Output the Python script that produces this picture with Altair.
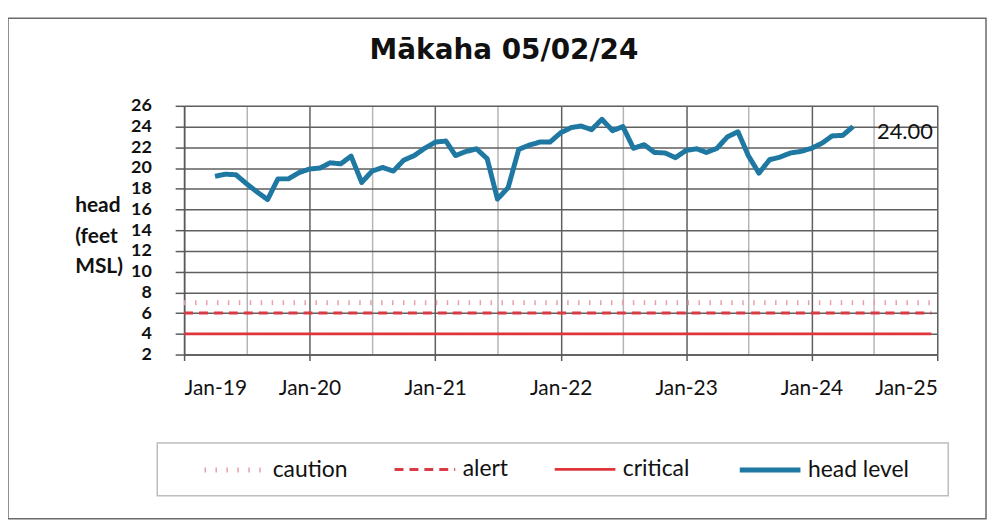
import altair as alt
import pandas as pd

# ---- data ----
dates = [
    "2019-04-01", "2019-05-01", "2019-06-01", "2019-07-01", "2019-08-01", "2019-09-01",
    "2019-10-01", "2019-11-01", "2019-12-01",
    "2020-01-01", "2020-02-01", "2020-03-01", "2020-04-01", "2020-05-01", "2020-06-01",
    "2020-07-01", "2020-08-01", "2020-09-01", "2020-10-01", "2020-11-01", "2020-12-01",
    "2021-01-01", "2021-02-01", "2021-03-01", "2021-04-01", "2021-05-01", "2021-06-01",
    "2021-07-01", "2021-08-01", "2021-09-01", "2021-10-01", "2021-11-01", "2021-12-01",
    "2022-01-01", "2022-02-01", "2022-03-01", "2022-04-01", "2022-05-01", "2022-06-01",
    "2022-07-01", "2022-08-01", "2022-09-01", "2022-10-01", "2022-11-01", "2022-12-01",
    "2023-01-01", "2023-02-01", "2023-03-01", "2023-04-01", "2023-05-01", "2023-06-01",
    "2023-07-01", "2023-08-01", "2023-09-01", "2023-10-01", "2023-11-01", "2023-12-01",
    "2024-01-01", "2024-02-01", "2024-03-01", "2024-04-01", "2024-05-01",
]
head_level = [
    19.2, 19.4, 19.35, 18.5, 17.7, 16.95,
    18.95, 18.95, 19.55,
    19.9, 20.0, 20.5, 20.4, 21.15, 18.6,
    19.7, 20.05, 19.7, 20.75, 21.2, 21.9,
    22.5, 22.6, 21.2, 21.6, 21.85, 20.9,
    17.0, 18.1, 21.8, 22.2, 22.5, 22.5,
    23.4, 23.9, 24.05, 23.7, 24.7, 23.6,
    24.0, 21.9, 22.25, 21.5, 21.45, 21.0,
    21.7, 21.85, 21.5, 21.9, 23.0, 23.5,
    21.2, 19.5, 20.8, 21.05, 21.45, 21.6,
    21.9, 22.4, 23.1, 23.15, 24.0,
]
threshold_names = ["caution", "alert", "critical"]
threshold_values = [7, 6, 4]
threshold_span = ["2019-01-01", "2024-12-15"]

series_order = ["caution", "alert", "critical", "head level"]
series_colors = ["#e8a0aa", "#d93a44", "#e0343c", "#1e78a2"]
series_dash = [[1.5, 9.5], [9, 6], [1, 0], [1, 0]]
series_width = [5, 3, 2.8, 5]

y_ticks = [2, 4, 6, 8, 10, 12, 14, 16, 18, 20, 22, 24, 26]
title_text = "Mākaha 05/02/24"
y_title = ["head", "(feet", "MSL)"]

# ---- tables ----
rows = []
for name, val in zip(threshold_names, threshold_values):
    for d in threshold_span:
        rows.append({"series": name, "date": d, "value": val})
for d, v in zip(dates, head_level):
    rows.append({"series": "head level", "date": d, "value": v})
df = pd.DataFrame(rows)
df["date"] = pd.to_datetime(df["date"])

last_df = pd.DataFrame({"date": pd.to_datetime([dates[-1]]), "value": [head_level[-1]],
                        "label": [f"{head_level[-1]:.2f}"]})

grid_dates = [alt.DateTime(year=2019 + i // 2, month=1 + 6 * (i % 2), date=1) for i in range(13)]

x_enc = alt.X(
    "date:T",
    scale=alt.Scale(domain=[alt.DateTime(year=2019, month=1, date=1),
                            alt.DateTime(year=2025, month=1, date=1)], nice=False),
    axis=alt.Axis(
        values=grid_dates,
        tickCount=20,
        labelExpr="month(datum.value) == 0 ? timeFormat(datum.value, '%b-%y') : ''",
        labelOverlap=False,
        labelFont="Lato", labelFontSize=21, labelColor="#111",
        labelPadding=17,
        tickSize=6,
        tickColor={"condition": {"test": "month(datum.value) != 0", "value": "transparent"},
                   "value": "#5a5a5a"},
        tickWidth=1.5,
        grid=True,
        gridColor={"condition": {"test": "month(datum.value) == 0", "value": "#5f5f5f"},
                   "value": "#b5b5b5"},
        gridWidth=1.5,
        domainColor="#5a5a5a", domainWidth=1.5,
        title=None,
    ),
)
y_enc = alt.Y(
    "value:Q",
    scale=alt.Scale(domain=[2, 26], nice=False, zero=False),
    axis=alt.Axis(
        values=y_ticks,
        tickCount=20,
        labelOverlap=False,
        labelFont="Lato", labelFontWeight="bold",
        labelFontSize=18, labelColor="#111", labelPadding=24,
        tickSize=9, tickColor="#5a5a5a", tickWidth=1.5,
        grid=True, gridColor="#5f5f5f", gridWidth=1.5,
        domainColor="#5a5a5a", domainWidth=1.5,
        title=y_title, titleAngle=0, titleAlign="left", titleBaseline="middle",
        titleX=-110, titleY=100, titleFont="Lato", titleFontWeight="bold",
        titleFontSize=21, titleLineHeight=31, titleColor="#111",
    ),
)

lines = alt.Chart(df).mark_line(strokeJoin="round").encode(
    x=x_enc,
    y=y_enc,
    color=alt.Color("series:N",
                    scale=alt.Scale(domain=series_order, range=series_colors),
                    legend=alt.Legend(
                        title=None, orient="none", direction="horizontal",
                        legendX=18, legendY=333, columns=4,
                        symbolType="stroke", symbolSize=3721,
                        labelFont="Lato", labelFontSize=23, labelColor="#111",
                        labelOffset=5, columnPadding=40, padding=0,
                    )),
    strokeDash=alt.StrokeDash("series:N",
                              scale=alt.Scale(domain=series_order, range=series_dash)),
    strokeWidth=alt.StrokeWidth("series:N",
                                scale=alt.Scale(type="ordinal", domain=series_order,
                                                range=series_width)),
    detail="series:N",
)

label = alt.Chart(last_df).mark_text(
    align="left", baseline="middle", dx=24, dy=6,
    font="Lato", fontSize=22, color="#111",
).encode(x="date:T", y="value:Q", text="label:N")

frame_df = pd.DataFrame({"k": [0]})
outer_frame = alt.Chart(frame_df).mark_rect(
    fillOpacity=0, stroke="#6a6a6a", strokeWidth=1.5
).encode(x=alt.value(-177), x2=alt.value(806), y=alt.value(-88), y2=alt.value(415))
legend_box = alt.Chart(frame_df).mark_rect(
    fillOpacity=0, stroke="#bdbdbd", strokeWidth=1.5
).encode(x=alt.value(-27), x2=alt.value(768), y=alt.value(339), y2=alt.value(392))

chart = alt.layer(outer_frame, legend_box, lines, label).properties(
    width=757, height=250,
    padding={"left": 177, "top": 97, "right": 50, "bottom": 167},
    autosize=alt.AutoSizeParams(type="none"),
    title=alt.TitleParams(title_text, font="DejaVu Sans", fontWeight="bold",
                          fontSize=28, color="#111", anchor="middle", frame="group",
                          dx=-57, dy=48, offset=0),
).configure_view(stroke="#5f5f5f", strokeWidth=1.5).configure(background="white")

chart.save("out.html", embed_options={"renderer": "svg", "actions": False})
